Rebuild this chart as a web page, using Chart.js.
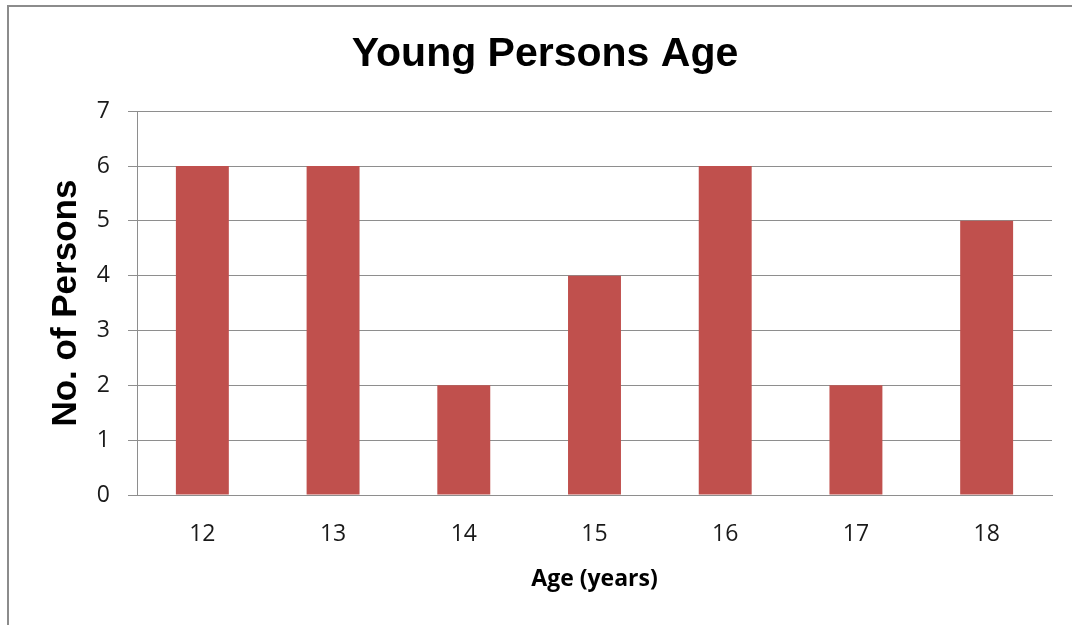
<!DOCTYPE html>
<html lang="en">
<head>
  <meta charset="UTF-8" />
  <title>Young Persons Age</title>
  <script src="https://cdn.jsdelivr.net/npm/chart.js"></script>
  <style>
    html, body {
      margin: 0;
      padding: 0;
      background: #ffffff;
      overflow: hidden;
    }
    .frame {
      position: absolute;
      left: 7px;
      top: 5px;
      width: 1100px;
      height: 700px;
      border-left: 2px solid #8c8c8c;
      border-top: 2px solid #8c8c8c;
    }
    .wrap {
      position: absolute;
      left: 0;
      top: 0;
      width: 1072px;
      height: 625px;
    }
  </style>
</head>
<body>
  <div class="frame"></div>
  <div class="wrap"><canvas id="grafica" width="1072" height="625"></canvas></div>

  <script>
    const ages = ['12', '13', '14', '15', '16', '17', '18'];
    const persons = [6, 6, 2, 4, 6, 2, 5];
    const yTicks = [0, 1, 2, 3, 4, 5, 6, 7];

    const gridColor = '#8e8e8e';
    const tickFont = { family: "'Open Sans', sans-serif", size: 23 };

    const config = {
      type: 'bar',
      data: {
        labels: ages,
        datasets: [{
          label: 'No. of Persons',
          data: persons,
          backgroundColor: '#c0504d',
          borderWidth: 0,
          barPercentage: 0.405,
          categoryPercentage: 1.0
        }]
      },
      options: {
        responsive: false,
        animation: false,
        layout: { padding: { left: 38, right: 20, top: 0, bottom: 0 } },
        plugins: {
          legend: { display: false },
          tooltip: { enabled: false },
          title: {
            display: true,
            text: 'Young Persons Age',
            color: '#000000',
            font: { family: "'Liberation Sans', Arial, sans-serif", size: 41, weight: 'bold' },
            padding: { top: 30, bottom: 32 }
          }
        },
        scales: {
          x: {
            grid: { display: false, drawTicks: false },
            border: { display: true, color: gridColor, width: 1 },
            ticks: { color: '#1a1a1a', font: tickFont, padding: 26 },
            title: {
              display: true,
              text: 'Age (years)',
              color: '#000000',
              font: { family: "'Open Sans', sans-serif", size: 23, weight: 'bold' },
              padding: { top: 10, bottom: 32 }
            },
            afterFit: (scale) => { scale.height = 130; }
          },
          y: {
            min: 0,
            max: 7,
            afterBuildTicks: (scale) => { scale.ticks = yTicks.map(v => ({ value: v })); },
            grid: { color: gridColor, tickLength: 9, drawTicks: true },
            border: { display: true, color: gridColor, width: 1 },
            ticks: { color: '#1a1a1a', font: tickFont, padding: 18 },
            title: {
              display: true,
              text: 'No. of Persons',
              color: '#000000',
              font: { family: "'Liberation Sans', Arial, sans-serif", size: 35, weight: 'bold' },
              padding: { top: 7, bottom: 0 }
            },
            afterFit: (scale) => { scale.width = 99; }
          }
        }
      }
    };

    const ctx = document.getElementById('grafica').getContext('2d');
    window.miGrafica = new Chart(ctx, config);
  </script>
</body>
</html>
